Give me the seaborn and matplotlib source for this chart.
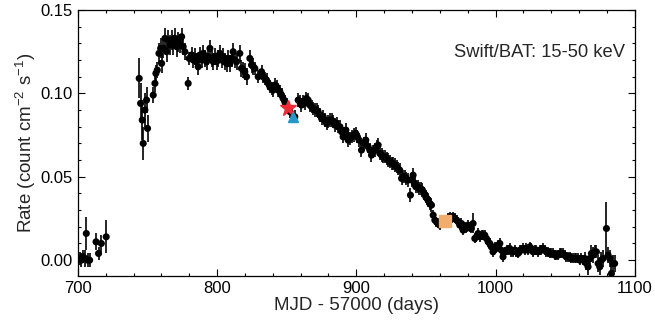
import matplotlib
matplotlib.use('Agg')
import matplotlib.pyplot as plt
import seaborn as sns
import pandas as pd
from matplotlib.ticker import MultipleLocator

# Swift/BAT 15-50 keV light curve
mjd = [
    701.2, 702.5, 703.6, 705.3, 706.0, 707.0, 708.4, 713.0, 714.8, 716.8, 720.3,
    744.0, 745.0, 746.2, 746.9, 748.1, 749.3, 750.0, 754.1, 755.3, 756.0, 757.0,
    758.2, 759.4, 760.1, 761.3, 762.5, 763.7, 764.9, 766.1, 767.3, 768.4, 769.7,
    770.9, 772.0, 773.2, 774.5, 775.6, 776.8, 779.2, 779.9, 781.6, 782.8, 784.0,
    785.2, 786.4, 787.6, 788.8, 790.0, 791.2, 792.4, 793.6, 794.8, 796.0, 797.2,
    798.4, 799.6, 800.8, 802.0, 803.2, 804.3, 805.6, 806.8, 807.9, 809.2, 810.4,
    811.5, 812.7, 814.0, 816.3, 817.5, 818.7, 819.9, 821.1, 823.5, 824.7, 826.0,
    827.1, 829.5, 831.9, 833.1, 834.3, 835.5, 836.7, 837.9, 839.1, 840.3, 841.5,
    842.7, 843.9, 845.1, 846.3, 847.4, 848.6, 849.9, 852.4, 855.8, 858.2, 859.4,
    860.6, 861.8, 863.0, 864.2, 865.4, 866.6, 867.8, 869.0, 870.2, 871.4, 872.6,
    873.8, 875.0, 876.2, 877.4, 878.6, 879.7, 881.0, 882.2, 883.3, 884.6, 885.8,
    887.0, 888.2, 889.4, 890.5, 891.5, 892.5, 893.3, 894.1, 895.4, 896.6, 898.0,
    899.6, 900.8, 902.0, 903.7, 905.2, 906.8, 908.5, 909.7, 910.9, 912.1, 913.3,
    914.5, 915.7, 916.9, 918.1, 919.3, 920.5, 921.7, 922.9, 924.1, 925.3, 926.5,
    927.7, 928.9, 930.0, 931.2, 932.5, 933.6, 934.8, 936.0, 937.2, 938.9, 940.0,
    940.8, 941.8, 942.7, 944.0, 945.1, 946.3, 947.5, 948.7, 949.9, 950.8, 951.6,
    952.8, 954.0, 955.2, 956.4, 957.6, 958.8, 960.0, 961.2, 966.0, 967.2, 968.4,
    969.5, 970.7, 972.0, 973.2, 974.3, 975.5, 976.7, 978.0, 979.1, 980.3, 981.5,
    982.7, 983.9, 985.1, 986.3, 987.5, 988.7, 990.0, 991.1, 992.3, 993.5, 994.7,
    995.9, 997.0, 998.2, 999.4, 1000.7, 1001.9, 1003.1, 1004.2, 1005.4, 1006.6,
    1007.9, 1009.0, 1010.2, 1011.4, 1012.6, 1013.8, 1015.0, 1016.2, 1017.4, 1018.6,
    1019.8, 1021.0, 1022.2, 1023.4, 1024.6, 1025.8, 1027.0, 1028.2, 1029.4, 1030.6,
    1031.8, 1033.0, 1034.2, 1035.4, 1036.6, 1037.8, 1039.0, 1040.2, 1041.4, 1042.6,
    1043.8, 1045.0, 1046.2, 1047.4, 1048.5, 1049.7, 1050.9, 1052.1, 1053.3, 1054.5,
    1055.7, 1056.9, 1058.1, 1059.3, 1060.5, 1061.7, 1062.9, 1064.1, 1065.3, 1066.5,
    1067.7, 1068.9, 1070.1, 1071.3, 1072.5, 1073.7, 1074.9, 1076.1, 1077.3, 1079.7,
    1080.9, 1082.1, 1083.3, 1084.5, 1085.6,
]
rate = [
    0.001, 0.000, 0.002, 0.001, 0.016, 0.000, 0.000, 0.011, 0.004, 0.010, 0.014,
    0.109, 0.094, 0.084, 0.070, 0.090, 0.096, 0.079, 0.099, 0.106, 0.112, 0.114,
    0.124, 0.127, 0.118, 0.127, 0.133, 0.125, 0.132, 0.129, 0.132, 0.129, 0.133,
    0.128, 0.131, 0.129, 0.134, 0.128, 0.125, 0.106, 0.121, 0.123, 0.120, 0.122,
    0.119, 0.116, 0.123, 0.120, 0.124, 0.121, 0.119, 0.122, 0.127, 0.121, 0.119,
    0.122, 0.119, 0.121, 0.124, 0.120, 0.122, 0.119, 0.118, 0.121, 0.118, 0.121,
    0.125, 0.120, 0.119, 0.124, 0.115, 0.114, 0.113, 0.110, 0.121, 0.117, 0.116,
    0.115, 0.110, 0.113, 0.110, 0.109, 0.108, 0.106, 0.104, 0.103, 0.102, 0.105,
    0.104, 0.102, 0.101, 0.099, 0.097, 0.095, 0.093, 0.089, 0.086, 0.096, 0.095,
    0.093, 0.095, 0.094, 0.097, 0.096, 0.093, 0.092, 0.091, 0.090, 0.090, 0.089,
    0.087, 0.085, 0.086, 0.084, 0.082, 0.083, 0.084, 0.084, 0.083, 0.081, 0.082,
    0.080, 0.080, 0.077, 0.074, 0.076, 0.078, 0.075, 0.072, 0.073, 0.074, 0.075,
    0.076, 0.074, 0.072, 0.066, 0.070, 0.072, 0.068, 0.066, 0.063, 0.065, 0.066,
    0.068, 0.069, 0.064, 0.063, 0.062, 0.062, 0.061, 0.060, 0.059, 0.058, 0.058,
    0.057, 0.056, 0.055, 0.054, 0.049, 0.050, 0.050, 0.049, 0.048, 0.039, 0.048,
    0.051, 0.046, 0.044, 0.044, 0.043, 0.043, 0.042, 0.040, 0.038, 0.037, 0.036,
    0.034, 0.033, 0.027, 0.024, 0.023, 0.022, 0.021, 0.022, 0.025, 0.026, 0.025,
    0.026, 0.025, 0.024, 0.023, 0.021, 0.022, 0.018, 0.020, 0.019, 0.021, 0.020,
    0.019, 0.022, 0.013, 0.014, 0.016, 0.014, 0.015, 0.015, 0.015, 0.013, 0.011,
    0.010, 0.008, 0.005, 0.008, 0.007, 0.009, 0.010, 0.006, 0.002, 0.005,
    0.006, 0.006, 0.007, 0.005, 0.005, 0.006, 0.005, 0.004, 0.006, 0.006,
    0.007, 0.006, 0.007, 0.006, 0.008, 0.007, 0.005, 0.006, 0.006, 0.005,
    0.006, 0.006, 0.007, 0.006, 0.005, 0.005, 0.004, 0.004, 0.004, 0.003,
    0.003, 0.003, 0.004, 0.004, 0.004, 0.003, 0.002, 0.002, 0.002, 0.001,
    0.001, 0.001, 0.001, 0.001, 0.000, 0.001, 0.000, 0.001, -0.002, -0.004,
    0.001, 0.004, 0.003, 0.005, 0.005, -0.002, -0.004, 0.000, 0.001, 0.019,
    0.003, 0.001, -0.008, -0.002, -0.002,
]
rate_err = [
    0.004, 0.004, 0.004, 0.005, 0.010, 0.004, 0.004, 0.005, 0.004, 0.005, 0.010,
    0.012, 0.012, 0.012, 0.010, 0.010, 0.008, 0.008, 0.005, 0.005, 0.005, 0.005,
    0.006, 0.006, 0.006, 0.006, 0.006, 0.006, 0.006, 0.006, 0.006, 0.006, 0.006,
    0.006, 0.006, 0.005, 0.005, 0.005, 0.005, 0.004, 0.004, 0.005, 0.005, 0.005,
    0.005, 0.005, 0.005, 0.005, 0.005, 0.005, 0.005, 0.005, 0.005, 0.005, 0.005,
    0.005, 0.005, 0.005, 0.005, 0.005, 0.005, 0.005, 0.005, 0.005, 0.005, 0.005,
    0.005, 0.005, 0.005, 0.005, 0.005, 0.005, 0.005, 0.005, 0.005, 0.005, 0.005,
    0.004, 0.004, 0.004, 0.004, 0.004, 0.004, 0.004, 0.004, 0.004, 0.004, 0.004,
    0.004, 0.004, 0.004, 0.004, 0.004, 0.004, 0.004, 0.004, 0.004, 0.004, 0.004,
    0.004, 0.004, 0.004, 0.004, 0.004, 0.004, 0.004, 0.004, 0.004, 0.004, 0.004,
    0.004, 0.004, 0.004, 0.004, 0.004, 0.004, 0.004, 0.004, 0.004, 0.004, 0.004,
    0.004, 0.004, 0.004, 0.004, 0.004, 0.004, 0.004, 0.004, 0.004, 0.004, 0.004,
    0.004, 0.004, 0.004, 0.004, 0.004, 0.004, 0.004, 0.004, 0.004, 0.004, 0.004,
    0.004, 0.004, 0.004, 0.004, 0.004, 0.004, 0.004, 0.004, 0.004, 0.004, 0.004,
    0.004, 0.004, 0.004, 0.004, 0.004, 0.004, 0.004, 0.004, 0.004, 0.004, 0.004,
    0.004, 0.004, 0.004, 0.004, 0.004, 0.004, 0.004, 0.004, 0.004, 0.004, 0.004,
    0.004, 0.004, 0.003, 0.003, 0.003, 0.003, 0.003, 0.003, 0.003, 0.003, 0.003,
    0.003, 0.003, 0.003, 0.003, 0.003, 0.003, 0.003, 0.003, 0.003, 0.003, 0.003,
    0.003, 0.006, 0.003, 0.003, 0.003, 0.003, 0.003, 0.003, 0.003, 0.003, 0.003,
    0.003, 0.003, 0.003, 0.003, 0.003, 0.003, 0.003, 0.003, 0.003, 0.003,
    0.003, 0.003, 0.003, 0.003, 0.003, 0.003, 0.003, 0.003, 0.003, 0.003,
    0.003, 0.003, 0.003, 0.003, 0.003, 0.003, 0.003, 0.003, 0.003, 0.003,
    0.003, 0.003, 0.003, 0.003, 0.003, 0.003, 0.003, 0.003, 0.003, 0.003,
    0.003, 0.003, 0.003, 0.003, 0.003, 0.003, 0.003, 0.003, 0.003, 0.003,
    0.003, 0.003, 0.003, 0.003, 0.003, 0.003, 0.003, 0.004, 0.004, 0.005,
    0.004, 0.005, 0.005, 0.004, 0.004, 0.005, 0.005, 0.005, 0.005, 0.016,
    0.005, 0.005, 0.006, 0.005, 0.005,
]

# highlighted epochs
star_mjd, star_rate = [851.0], [0.0915]
tri_mjd, tri_rate = [854.2], [0.0860]
sq_mjd, sq_rate = [963.6], [0.0234]

df = pd.DataFrame({'mjd': mjd, 'rate': rate, 'err': rate_err})

sns.set_theme(style='ticks')
plt.rcParams['font.family'] = ['Liberation Sans', 'DejaVu Sans']
plt.rcParams['mathtext.fontset'] = 'custom'
plt.rcParams['mathtext.rm'] = 'Liberation Sans'

fig, ax = plt.subplots(figsize=(6.55, 3.23), dpi=100)
fig.subplots_adjust(left=0.119, right=0.969, bottom=0.145, top=0.969)

ax.errorbar(df['mjd'], df['rate'], yerr=df['err'], fmt='none', ecolor='black', elinewidth=1.2, capsize=0, zorder=2)
sns.scatterplot(data=df, x='mjd', y='rate', ax=ax, color='black', s=26, edgecolor='none', zorder=3)

ax.plot(star_mjd, star_rate, marker='*', color='#ee2b36', markersize=12, linestyle='none', zorder=4)
ax.plot(tri_mjd, tri_rate, marker='^', color='#2698c8', markersize=7, linestyle='none', zorder=4)
ax.plot(sq_mjd, sq_rate, marker='s', color='#f2ad6c', markersize=8, linestyle='none', zorder=4)

ax.set_xlim(700, 1100)
ax.set_ylim(-0.0096, 0.15)
ax.xaxis.set_major_locator(MultipleLocator(100))
ax.xaxis.set_minor_locator(MultipleLocator(20))
ax.yaxis.set_major_locator(MultipleLocator(0.05))
ax.yaxis.set_minor_locator(MultipleLocator(0.01))
ax.tick_params(which='both', direction='in', top=True, right=True, colors='black', labelsize=12, width=0.8)
ax.tick_params(which='major', length=5)
ax.tick_params(which='minor', length=2.5)
for sp in ax.spines.values():
    sp.set_linewidth(0.9)
    sp.set_color('black')

ax.set_xlabel('MJD - 57000 (days)', fontsize=13.5, labelpad=1)
ax.set_ylabel('Rate (count cm$^{-2}$ s$^{-1}$)', fontsize=13.5, labelpad=2)
ax.text(0.982, 0.842, 'Swift/BAT: 15-50 keV', transform=ax.transAxes, ha='right', va='center', fontsize=13.2)

fig.savefig('out.png', dpi=100)
